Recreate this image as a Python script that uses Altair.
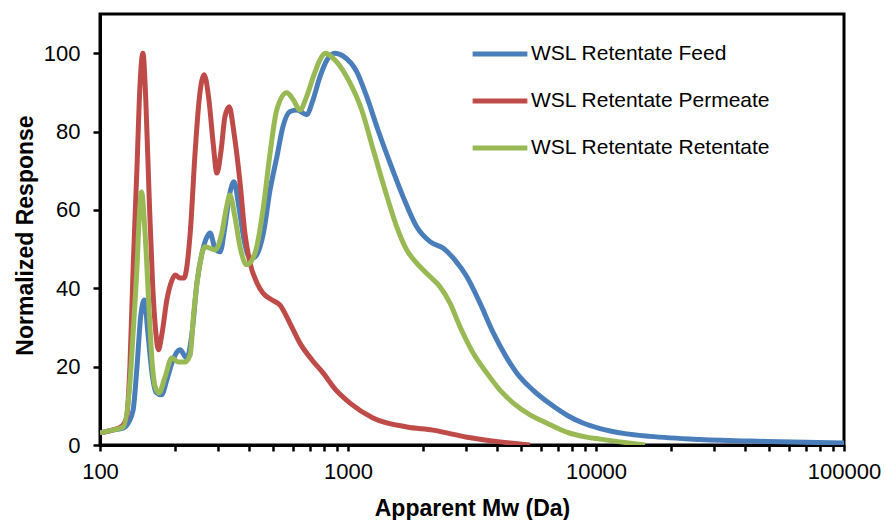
import altair as alt
import pandas as pd

series = ["WSL Retentate Feed", "WSL Retentate Permeate", "WSL Retentate Retentate"]
colors = ["#4A7EBB", "#BE4B48", "#98B954"]

feed_mw = [100, 112, 124, 130, 136, 141, 146, 151, 156, 162, 168, 177, 186, 195, 204, 210,
           224, 235, 246, 258, 270, 278, 291, 305, 319, 334, 347, 363, 381, 403, 422, 456,
           485, 517, 547, 584, 623, 681, 722, 771, 823, 886, 960, 1084, 1190, 1321, 1477,
           1667, 1892, 2141, 2423, 2701, 3011, 3407, 3854, 4297, 4789, 5571, 6525, 7640,
           8862, 10380, 13090, 16510, 26260, 48920, 100000]
feed_val = [3.1, 3.8, 4.3, 5.6, 8.9, 20, 33, 37, 28.6, 18.4, 13.5, 12.8, 16.6, 20.9, 23.7, 24.3,
            22.2, 28.6, 41.4, 49, 53.1, 54.1, 50.2, 49.3, 55.7, 64.3, 67.2, 60.8, 52.3, 47.7, 48, 54.1,
            65.1, 73.6, 81.3, 85.1, 85.5, 84.3, 88, 94, 98.3, 100, 99.2, 95.3, 88.9, 80.4, 72,
            63.4, 55.7, 51.9, 50.2, 47.2, 43, 36.2, 28.6, 23, 18.4, 14, 10.5, 7.6,
            5.6, 4.2, 2.9, 2.2, 1.4, 0.9, 0.5]

perm_mw = [100, 112, 123, 128, 132, 136, 141, 145, 149, 153, 158, 163, 168, 172, 178, 186,
           195, 201, 210, 218, 231, 242, 251, 263, 275, 286, 296, 308, 319, 332, 347, 367,
           384, 403, 430, 454, 494, 532, 584, 640, 716, 793, 895, 1019, 1261, 1729, 2201,
           3018, 4102, 5420]
perm_val = [3.1, 3.8, 4.9, 7.1, 20, 45, 71, 92, 100, 88, 62.5, 41, 28.6, 24.3, 28.6, 37,
            42, 43.4, 42.6, 42.6, 54, 75, 88, 94.5, 88, 77, 69.4, 75.3, 83.8, 86.3, 79.6, 67,
            54, 46.4, 41.3, 38.8, 37, 35.7, 31, 26, 21.7, 18.4, 14, 10.7, 6.9, 4.6, 3.8,
            2.0, 0.8, 0]

ret_mw = [100, 112, 124, 132, 136, 141, 144, 147, 152, 157, 162, 167, 173, 183, 195, 207,
          220, 231, 238, 253, 265, 291, 310, 324, 334, 350, 367, 390, 422, 456, 485, 516,
          566, 602, 640, 681, 725, 771, 808, 900, 1019, 1136, 1265, 1410, 1572, 1725, 1892,
          2141, 2350, 2578, 2829, 3201, 3625, 4102, 4639, 5420, 6327, 7619, 9174, 10380,
          12500, 15760]
ret_val = [3.1, 3.8, 4.6, 15.8, 28.6, 45.5, 58.2, 64.6, 54, 37, 21.7, 14.8, 13.3, 17.4, 22.2, 21.2,
           21.2, 23, 32.7, 46.4, 50.6, 49.8, 54.1, 60.8, 63.8, 58.2, 50.6, 46, 49, 60.8, 74.5, 85.5,
           89.9, 88.1, 85.5, 88.9, 94, 98.3, 100, 97.8, 92.4, 85.5, 75.3, 65.1, 55.7, 49.8, 46.4,
           43, 40.4, 36.2, 30.2, 23.4, 18.4, 14, 10.7, 7.7, 5.6, 3.3, 2.0, 1.5,
           0.8, 0]

x_ticks = [100, 200, 300, 400, 500, 600, 700, 800, 900,
           1000, 2000, 3000, 4000, 5000, 6000, 7000, 8000, 9000,
           10000, 20000, 30000, 40000, 50000, 60000, 70000, 80000, 90000, 100000]
y_ticks = [0, 20, 40, 60, 80, 100]

rows = []
for name, mws, vals in zip(series, [feed_mw, perm_mw, ret_mw], [feed_val, perm_val, ret_val]):
    for m, v in zip(mws, vals):
        rows.append({"Series": name, "Mw": m, "Response": v})
df = pd.DataFrame(rows)

FONT = "Liberation Sans"

chart = alt.Chart(df).mark_line(interpolate="monotone", strokeWidth=5, clip=True).encode(
    x=alt.X("Mw:Q",
            scale=alt.Scale(type="log", domain=[100, 100000]),
            axis=alt.Axis(values=x_ticks, title="Apparent Mw (Da)",
                          labelExpr="indexof([100,1000,10000,100000], datum.value) >= 0 ? format(datum.value, 'd') : ''",
                          labelOverlap=False, labelFlush=False, labelBound=False,
                          labelFontSize=22, tickSize=6, tickWidth=2.5, labelPadding=10,
                          titleFontSize=23, titleFontWeight="bold", titleX=372, titleY=70,
                          titleAlign="center", titleBaseline="alphabetic")),
    y=alt.Y("Response:Q",
            scale=alt.Scale(domain=[0, 110], nice=False),
            axis=alt.Axis(values=y_ticks, title="Normalized Response", format="d",
                          labelFontSize=22, tickSize=7, tickWidth=2.5, labelPadding=13,
                          titleFontSize=23, titleFontWeight="bold", titleX=-68, titleY=221,
                          titleAngle=-90, titleAlign="center", titleBaseline="alphabetic")),
    color=alt.Color("Series:N",
                    scale=alt.Scale(domain=series, range=colors),
                    legend=alt.Legend(orient="none", legendX=370, legendY=10, title=None,
                                      symbolType="stroke", symbolSize=3000, symbolStrokeWidth=5,
                                      labelFontSize=21, labelFont=FONT, labelColor="black",
                                      labelOffset=1, rowPadding=7, labelLimit=400)),
).properties(
    width=744, height=431,
    autosize=alt.AutoSizeParams(type="none"),
    padding={"left": 100, "top": 14, "right": 41, "bottom": 75},
).configure_view(
    stroke="black", strokeWidth=3
).configure_axis(
    grid=False, domainColor="black", domainWidth=3, tickColor="black",
    labelColor="black", titleColor="black", labelFont=FONT, titleFont=FONT
)

chart.save("out.html", embed_options={"renderer": "svg", "actions": False})
